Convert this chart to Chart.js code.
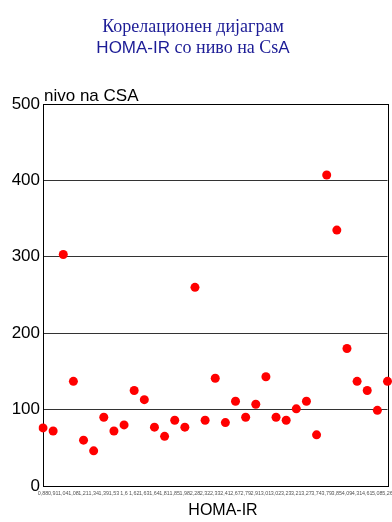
<!DOCTYPE html>
<html>
<head>
<meta charset="utf-8">
<script src="https://cdn.jsdelivr.net/npm/chart.js@4.4.1/dist/chart.umd.min.js"></script>
<style>
    body { margin: 0; background: #fff; }
    #wrap { position: relative; width: 392px; height: 522px; }
    #title {
        position: absolute; left: 0; top: 16px; width: 386px;
        text-align: center; color: #1c1c96;
        font-family: "Liberation Serif", "DejaVu Serif", serif;
        font-size: 18px; line-height: 21px;
    }
    .sans { font-family: "Liberation Sans", Arial, sans-serif; font-size: 17px; }
</style>
</head>
<body>
<div id="wrap">
    <canvas id="chart" width="392" height="522"></canvas>
    <div id="title">
        Корелационен дијаграм<br>
        <span class="sans">HOMA-IR</span> со ниво на Cs<span class="sans">A</span>
    </div>
</div>
<script>
// HOMA-IR values (x categories)
const homaLabels = ['0,88', '0,91', '1,04', '1,08', '1,21', '1,34', '1,39', '1,53', '1,6', '1,62',
    '1,63', '1,64', '1,81', '1,85', '1,98', '2,28', '2,32', '2,33', '2,41', '2,67',
    '2,79', '2,91', '3,01', '3,02', '3,23', '3,21', '3,27', '3,74', '3,79', '3,85',
    '4,09', '4,31', '4,61', '5,08', '5,26'];

// CsA level for each patient
const csaValues = [76, 72, 303, 137, 60, 46, 90, 72, 80, 125,
    113, 77, 65, 86, 77, 260, 86, 141, 83, 111,
    90, 107, 143, 90, 86, 101, 111, 67, 407, 335,
    180, 137, 125, 99, 137];

const yTicks = [0, 100, 200, 300, 400, 500];

const yTitle = 'nivo na CSA';
const xTitle = 'HOMA-IR';

// Draws the box round the plot and the two axis titles
const framePlugin = {
    id: 'frame',
    beforeDatasetsDraw(chart) {
        const { ctx, chartArea: a } = chart;
        ctx.save();
        ctx.strokeStyle = '#000';
        ctx.lineWidth = 1;
        ctx.strokeRect(Math.round(a.left) + 0.5, Math.round(a.top) + 0.5,
            Math.round(a.right - a.left), Math.round(a.bottom - a.top));
        ctx.restore();
    },
    afterDraw(chart) {
        const { ctx, chartArea: a } = chart;
        ctx.save();
        ctx.fillStyle = '#000';
        ctx.font = '17px "Liberation Sans", Arial, sans-serif';
        ctx.textBaseline = 'alphabetic';
        ctx.textAlign = 'left';
        ctx.fillText(yTitle, a.left + 1, a.top - 3.5);
        ctx.font = '16px "Liberation Sans", Arial, sans-serif';
        ctx.textAlign = 'center';
        ctx.fillText(xTitle, 223, 515);
        ctx.restore();
    }
};

new Chart(document.getElementById('chart'), {
    type: 'line',
    data: {
        labels: homaLabels,
        datasets: [{
            data: csaValues,
            showLine: false,
            pointRadius: 4.5,
            pointHoverRadius: 4.5,
            pointBackgroundColor: '#ff0000',
            pointBorderWidth: 0,
            borderColor: '#ff0000'
        }]
    },
    options: {
        responsive: false,
        animation: false,
        layout: { padding: { top: 104, right: 3, left: 0, bottom: 0 } },
        plugins: {
            legend: { display: false },
            tooltip: { enabled: false }
        },
        scales: {
            x: {
                type: 'category',
                offset: false,
                afterFit(scale) {
                    scale.height = 36;
                    scale.paddingLeft = 0;
                    scale.paddingRight = 0;
                },
                grid: { display: false, drawTicks: false },
                border: { display: true, color: '#000' },
                ticks: {
                    autoSkip: false,
                    maxRotation: 0,
                    minRotation: 0,
                    padding: 4,
                    color: '#555',
                    font: { family: '"Liberation Sans", Arial, sans-serif', size: 5.4 }
                }
            },
            y: {
                min: 0,
                max: 500,
                afterFit(scale) { scale.width = 43; },
                afterBuildTicks(scale) { scale.ticks = yTicks.map(v => ({ value: v })); },
                grid: { color: '#333', lineWidth: 1, drawTicks: false },
                border: { display: true, color: '#000' },
                ticks: {
                    padding: 3,
                    color: '#000',
                    font: { family: '"Liberation Sans", Arial, sans-serif', size: 17 }
                }
            }
        }
    },
    plugins: [framePlugin]
});
</script>
</body>
</html>
